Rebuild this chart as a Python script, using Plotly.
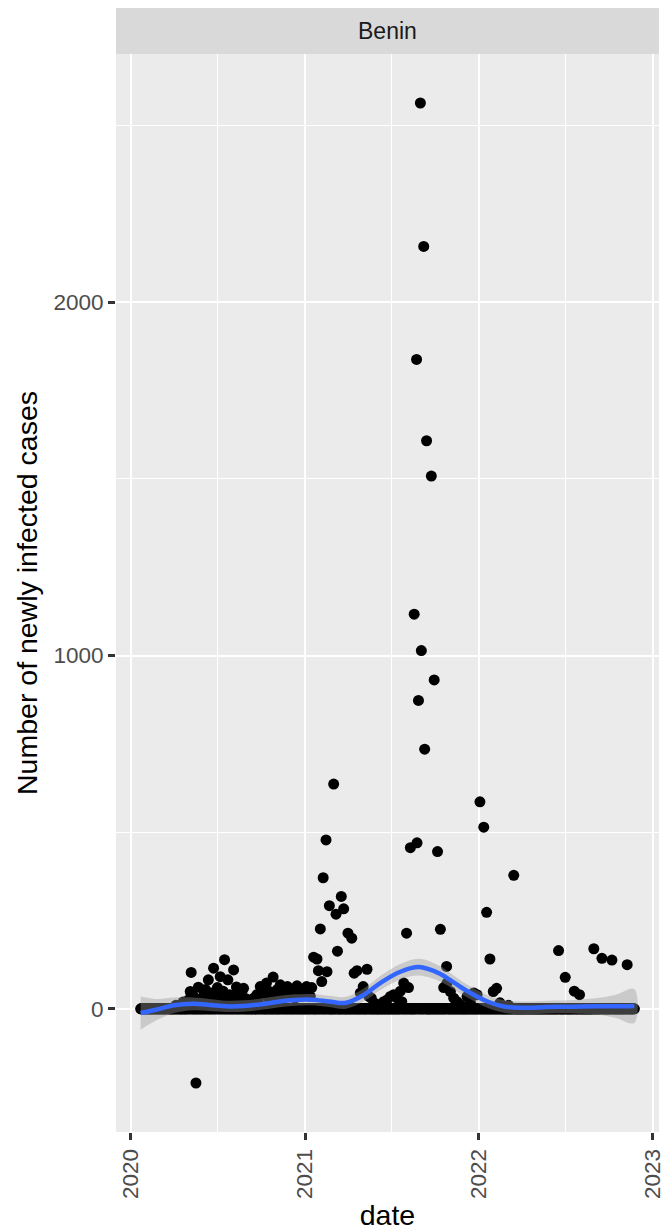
import pandas as pd
import plotly.graph_objects as go

# daily series runs over this span; days without a reading below sit on 0 (the solid band at y=0)
first_day = "2020-01-22"
last_day = "2022-11-23"

report_dates = [
    "2020-03-17", "2020-04-01", "2020-04-05", "2020-04-10", "2020-04-20", "2020-04-28",
    "2020-05-02", "2020-05-05", "2020-05-07", "2020-05-12", "2020-05-17", "2020-05-22",
    "2020-05-26", "2020-05-30", "2020-06-03", "2020-06-06", "2020-06-09", "2020-06-12",
    "2020-06-16", "2020-06-19", "2020-06-23", "2020-06-26", "2020-06-29", "2020-07-01",
    "2020-07-04", "2020-07-07", "2020-07-10", "2020-07-13", "2020-07-16", "2020-07-20",
    "2020-07-23", "2020-07-27", "2020-07-30", "2020-08-04", "2020-08-06", "2020-08-10",
    "2020-08-14", "2020-08-18", "2020-08-21", "2020-08-25", "2020-08-28", "2020-09-03",
    "2020-09-08", "2020-09-15", "2020-09-22", "2020-09-25", "2020-09-29", "2020-10-02",
    "2020-10-06", "2020-10-12", "2020-10-16", "2020-10-20", "2020-10-26", "2020-10-30",
    "2020-11-04", "2020-11-10", "2020-11-13", "2020-11-17", "2020-11-20", "2020-11-25",
    "2020-11-28", "2020-12-02", "2020-12-08", "2020-12-11", "2020-12-15", "2020-12-19",
    "2020-12-23", "2020-12-29", "2021-01-04", "2021-01-07", "2021-01-12", "2021-01-15",
    "2021-01-19", "2021-01-26", "2021-01-29", "2021-02-02", "2021-02-05", "2021-02-08",
    "2021-02-14", "2021-02-16", "2021-02-21", "2021-03-02", "2021-03-07", "2021-03-10",
    "2021-03-18", "2021-03-23", "2021-04-01", "2021-04-09", "2021-04-14", "2021-04-20",
    "2021-04-27", "2021-05-03", "2021-05-11", "2021-05-15", "2021-05-20", "2021-05-28",
    "2021-06-08", "2021-06-15", "2021-06-22", "2021-06-29", "2021-07-06", "2021-07-13",
    "2021-07-20", "2021-07-23", "2021-07-27", "2021-08-02", "2021-08-06", "2021-08-10",
    "2021-08-18", "2021-08-23", "2021-08-24", "2021-08-27", "2021-08-31", "2021-09-02",
    "2021-09-07", "2021-09-09", "2021-09-13", "2021-09-23", "2021-09-29", "2021-10-06",
    "2021-10-12", "2021-10-19", "2021-10-25", "2021-10-26", "2021-11-02", "2021-11-09",
    "2021-11-16", "2021-11-23", "2021-12-07", "2021-12-14", "2021-12-21", "2021-12-28",
    "2022-01-03", "2022-01-11", "2022-01-17", "2022-01-24", "2022-01-31", "2022-02-07",
    "2022-02-14", "2022-03-04", "2022-03-15", "2022-06-17", "2022-07-01", "2022-07-20",
    "2022-07-31", "2022-08-30", "2022-09-16", "2022-10-07", "2022-11-08",
]
report_cases = [
    1, 3, 10, 5, 19, 10,
    26, 49, 103, 35, -210, 61,
    20, 30, 40, 55, 28, 82,
    36, 45, 115, 30, 15, 60,
    42, 91, 25, 50, 139, 33,
    82, 40, 20, 110, 35, 62,
    28, 45, 15, 58, 30, 25,
    12, 30, 40, 20, 63, 45,
    52, 73, 30, 48, 90, 38,
    55, 68, 40, 30, 50, 63,
    35, 45, 50, 30, 65, 45,
    55, 40, 63, 50, 35, 60,
    146, 141, 108, 226, 77, 371,
    478, 105, 292, 636, 268, 163,
    318, 283, 214, 200, 101, 108,
    45, 63, 112, 35, 30, 15,
    10, 20, 25, 35, 40, 30,
    50, 20, 73, 214, 60, 456,
    1117, 1838, 470, 873, 2564, 1014,
    2158, 735, 1608, 1508, 931, 445,
    225, 60, 120, 73, 49, 30,
    20, 12, 35, 20, 45, 40,
    586, 514, 273, 141, 49, 58,
    17, 10, 378, 165, 89, 50,
    40, 170, 143, 138, 125,
]

# smoother, with half width of the grey band
smooth_dates = [
    "2020-01-22", "2020-02-25", "2020-04-01", "2020-05-10", "2020-06-15", "2020-07-20",
    "2020-08-25", "2020-10-01", "2020-11-05", "2020-12-10", "2021-01-15", "2021-02-20",
    "2021-03-28", "2021-05-05", "2021-06-10", "2021-07-20", "2021-08-28", "2021-10-10",
    "2021-11-01", "2021-12-05", "2022-01-20", "2022-02-25", "2022-04-01", "2022-05-25",
    "2022-07-20", "2022-09-10", "2022-10-15", "2022-11-23",
]
smooth_fit = [
    -12, -2, 10, 14, 11, 7,
    8, 13, 20, 25, 26, 21,
    17, 40, 75, 105, 118, 100,
    82, 52, 20, 6, 3, 5,
    6, 7, 7, 8,
]
smooth_se = [
    47, 30, 22, 18, 17, 16,
    16, 16, 16, 16, 16, 16,
    17, 18, 20, 22, 24, 22,
    20, 18, 18, 18, 18, 18,
    19, 24, 33, 48,
]

days = pd.date_range(first_day, last_day, freq="D")
cases = pd.Series(0, index=days)
cases[pd.to_datetime(report_dates)] = report_cases

sm = pd.DataFrame({"date": pd.to_datetime(smooth_dates), "fit": smooth_fit, "se": smooth_se})
sm["lo"] = sm["fit"] - sm["se"]
sm["hi"] = sm["fit"] + sm["se"]

# ggplot style 5% expansion of the data range
span = days[-1] - days[0]
x_range = [days[0] - span * 0.05, days[-1] + span * 0.05]
y_span = cases.max() - cases.min()
y_range = [cases.min() - y_span * 0.05, cases.max() + y_span * 0.05]

fig = go.Figure()

fig.add_trace(go.Scatter(
    x=cases.index, y=cases.values,
    mode="markers",
    marker=dict(color="black", size=11, line=dict(width=0)),
    showlegend=False,
))

fig.add_trace(go.Scatter(
    x=list(sm["date"]) + list(sm["date"][::-1]),
    y=list(sm["hi"]) + list(sm["lo"][::-1]),
    fill="toself",
    fillcolor="rgba(153,153,153,0.4)",
    line=dict(width=0, shape="spline"),
    mode="lines",
    hoverinfo="skip",
    showlegend=False,
))

fig.add_trace(go.Scatter(
    x=sm["date"], y=sm["fit"],
    mode="lines",
    line=dict(color="#3366FF", width=4.5, shape="spline"),
    showlegend=False,
))

strip_h = 46 / 1078

fig.add_shape(type="rect", xref="paper", yref="paper",
              x0=0, x1=1, y0=1, y1=1 + strip_h,
              fillcolor="#D9D9D9", line=dict(width=0), layer="below")
fig.add_annotation(text="Benin", xref="paper", yref="paper",
                   x=0.5, y=1 + strip_h / 2, showarrow=False,
                   font=dict(size=23, color="#1A1A1A"),
                   xanchor="center", yanchor="middle")

fig.update_layout(
    width=672,
    height=1231,
    margin=dict(l=116, r=13, t=54, b=99),
    paper_bgcolor="white",
    plot_bgcolor="#EBEBEB",
    font=dict(family="Liberation Sans, Arial", size=22.5, color="#4D4D4D"),
    showlegend=False,
    xaxis=dict(
        range=x_range,
        automargin=False,
        tickvals=["2020-01-01", "2021-01-01", "2022-01-01", "2023-01-01"],
        ticktext=["2020", "2021", "2022", "2023"],
        tickangle=-90,
        ticks="outside", ticklen=7, tickwidth=2.5, tickcolor="#333333",
        showgrid=True, gridcolor="white", gridwidth=2.2,
        minor=dict(tickvals=["2020-07-02", "2021-07-02", "2022-07-02"],
                   showgrid=True, gridcolor="white", gridwidth=1.1, ticks=""),
        zeroline=False, showline=False,
        title=dict(text="date", font=dict(size=28.5, color="black"), standoff=8),
    ),
    yaxis=dict(
        range=y_range,
        automargin=False,
        tickvals=[0, 1000, 2000],
        ticks="outside", ticklen=7, tickwidth=2.5, tickcolor="#333333",
        showgrid=True, gridcolor="white", gridwidth=2.2,
        minor=dict(tickvals=[500, 1500, 2500],
                   showgrid=True, gridcolor="white", gridwidth=1.1, ticks=""),
        zeroline=False, showline=False,
        title=dict(text="Number of newly infected cases",
                   font=dict(size=28.5, color="black"), standoff=7),
    ),
)

# drop the default page margin so the figure sits at the window's top-left corner
fig.write_html("out.html", config={"displayModeBar": False},
               post_script="document.body.style.margin='0';")
